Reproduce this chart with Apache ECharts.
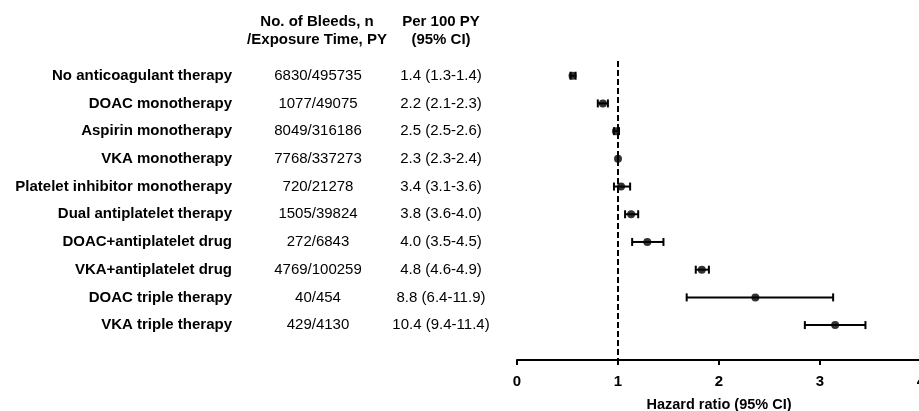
<!DOCTYPE html>
<html>
<head>
<meta charset="utf-8">
<script src="https://cdn.jsdelivr.net/npm/echarts@6/dist/echarts.min.js"></script>
<style>
  html, body { margin: 0; padding: 0; background: #fff; }
  #chart { width: 919px; height: 411px; }
</style>
</head>
<body>
<div id="chart"></div>
<script>
// rows, top to bottom
var therapies = ['No anticoagulant therapy', 'DOAC monotherapy', 'Aspirin monotherapy',
  'VKA monotherapy', 'Platelet inhibitor monotherapy', 'Dual antiplatelet therapy',
  'DOAC+antiplatelet drug', 'VKA+antiplatelet drug', 'DOAC triple therapy', 'VKA triple therapy'];
var bleeds = ['6830/495735', '1077/49075', '8049/316186', '7768/337273', '720/21278',
  '1505/39824', '272/6843', '4769/100259', '40/454', '429/4130'];
var rates = ['1.4 (1.3-1.4)', '2.2 (2.1-2.3)', '2.5 (2.5-2.6)', '2.3 (2.3-2.4)', '3.4 (3.1-3.6)',
  '3.8 (3.6-4.0)', '4.0 (3.5-4.5)', '4.8 (4.6-4.9)', '8.8 (6.4-11.9)', '10.4 (9.4-11.4)'];
// hazard ratios and 95% CI
var hr = [0.55, 0.85, 0.98, 1.00, 1.03, 1.13, 1.29, 1.83, 2.36, 3.15];
var ciLow = [0.53, 0.80, 0.96, 1.00, 0.96, 1.07, 1.14, 1.77, 1.68, 2.85];
var ciHigh = [0.58, 0.90, 1.01, 1.00, 1.12, 1.20, 1.45, 1.90, 3.13, 3.45];
var countHeader = ['No. of Bleeds, n', '/Exposure Time, PY'];
var rateHeader = ['Per 100 PY', '(95% CI)'];
var xTicks = [0, 1, 2, 3, 4];
var refLine = 1;

var FONT = '"Liberation Sans", Arial, sans-serif';
var chart = echarts.init(document.getElementById('chart'));

var barData = [], pointData = [];
for (var i = 0; i < therapies.length; i++) {
  barData.push([ciLow[i], ciHigh[i], i + 1]);
  pointData.push([hr[i], i + 1]);
}

function rowText(list) {
  return function (v) {
    var k = Math.round(v);
    if (Math.abs(v - k) > 0.01) return '';
    return list[k - 1] || '';
  };
}

function textAxis(list, margin, align, bold) {
  return {
    type: 'value', position: 'left', inverse: true,
    min: 0, max: 11.26, interval: 1,
    axisLine: { show: false }, axisTick: { show: false }, splitLine: { show: false },
    axisLabel: {
      formatter: rowText(list), margin: margin, align: align,
      color: '#000', fontFamily: FONT, fontSize: 15,
      fontWeight: bold ? 'bold' : 'normal'
    }
  };
}

var option = {
  backgroundColor: '#fff',
  animation: false,
  grid: { left: 517, top: 48, width: 404, bottom: 51, outerBoundsMode: 'none' },
  graphic: [
    {
      type: 'text', x: 317, y: 13, style: {
        text: countHeader.join('\n'), textAlign: 'center', font: 'bold 15px ' + FONT,
        lineHeight: 18, fill: '#000'
      }
    },
    {
      type: 'text', x: 441, y: 13, style: {
        text: rateHeader.join('\n'), textAlign: 'center', font: 'bold 15px ' + FONT,
        lineHeight: 18, fill: '#000'
      }
    }
  ],
  xAxis: {
    type: 'value', min: xTicks[0], max: xTicks[xTicks.length - 1], interval: 1,
    name: 'Hazard ratio (95% CI)', nameLocation: 'middle', nameGap: 37,
    nameTextStyle: { color: '#000', fontFamily: FONT, fontSize: 14.5, fontWeight: 'bold' },
    axisLine: { onZero: false, lineStyle: { color: '#000', width: 2 } },
    axisTick: { length: 5, lineStyle: { color: '#000', width: 2 } },
    splitLine: { show: false },
    axisLabel: { margin: 14, color: '#000', fontFamily: FONT, fontSize: 15, fontWeight: 'bold' }
  },
  yAxis: [
    textAxis(therapies, 285, 'right', true),
    textAxis(bleeds, 199, 'center', false),
    textAxis(rates, 76, 'center', false)
  ],
  series: [
    {
      type: 'custom',
      data: barData,
      encode: { x: [0, 1], y: 2 },
      renderItem: function (params, api) {
        var a = api.coord([api.value(0), api.value(2)]);
        var b = api.coord([api.value(1), api.value(2)]);
        var h = 4;
        var st = { stroke: '#000', lineWidth: 2 };
        return {
          type: 'group', children: [
            { type: 'line', shape: { x1: a[0], y1: a[1], x2: b[0], y2: b[1] }, style: st },
            { type: 'line', shape: { x1: a[0], y1: a[1] - h, x2: a[0], y2: a[1] + h }, style: st },
            { type: 'line', shape: { x1: b[0], y1: b[1] - h, x2: b[0], y2: b[1] + h }, style: st }
          ]
        };
      },
      markLine: {
        silent: true, symbol: 'none', label: { show: false },
        lineStyle: { color: '#000', width: 2, type: [6, 3] },
        data: [[{ coord: [refLine, 0.47] }, { coord: [refLine, 11.26] }]]
      },
      z: 2
    },
    {
      type: 'scatter',
      data: pointData,
      symbol: 'circle', symbolSize: 8,
      itemStyle: { color: '#000' },
      z: 3
    }
  ]
};

chart.setOption(option);
</script>
</body>
</html>
